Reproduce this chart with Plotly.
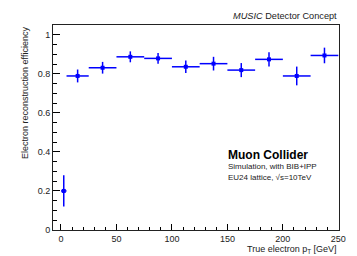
import plotly.graph_objects as go

# Data
pt_center = [2.5, 15, 37.5, 62.5, 87.5, 112.5, 137.5, 162.5, 187.5, 212.5, 237.5]
pt_halfwidth = [2.5, 10, 12.5, 12.5, 12.5, 12.5, 12.5, 12.5, 12.5, 12.5, 12.5]
efficiency = [0.20, 0.789, 0.831, 0.887, 0.879, 0.836, 0.852, 0.819, 0.874, 0.789, 0.894]
eff_error = [0.08, 0.033, 0.030, 0.028, 0.027, 0.032, 0.035, 0.036, 0.036, 0.048, 0.040]

x_ticks = [0, 50, 100, 150, 200, 250]
y_ticks = [0, 0.2, 0.4, 0.6, 0.8, 1]
y_ticklabels = ["0", "0.2", "0.4", "0.6", "0.8", "1"]

FONT = "Liberation Sans, Arial, sans-serif"
BLUE = "#0000ff"

fig = go.Figure()
fig.add_trace(go.Scatter(
    x=pt_center, y=efficiency, mode="markers",
    marker=dict(symbol="square", size=4, color=BLUE),
    error_x=dict(type="data", array=pt_halfwidth, color=BLUE, thickness=1.5, width=0),
    error_y=dict(type="data", array=eff_error, color=BLUE, thickness=1.5, width=0),
    showlegend=False,
))

fig.update_layout(
    width=357, height=256,
    margin=dict(l=53, r=18, t=25, b=26),
    paper_bgcolor="white", plot_bgcolor="white",
    font=dict(family=FONT, size=9, color="black"),
    xaxis=dict(
        range=[-7.2, 250.6], tickvals=x_ticks, ticks="inside", ticklen=6,
        tickcolor="black", tickwidth=1, showgrid=False, zeroline=False,
        showline=True, linecolor="#222", linewidth=1, mirror=True,
        minor=dict(dtick=10, ticks="inside", ticklen=3.5, tickcolor="black", showgrid=False),
        tickfont=dict(size=9, family=FONT, color="#222"),
    ),
    yaxis=dict(
        range=[0, 1.05], tickvals=y_ticks, ticktext=y_ticklabels, ticks="inside", ticklen=7,
        tickcolor="black", tickwidth=1, showgrid=False, zeroline=False,
        showline=True, linecolor="#222", linewidth=1, mirror=True,
        minor=dict(dtick=0.05, ticks="inside", ticklen=3.5, tickcolor="black", showgrid=False),
        tickfont=dict(size=9, family=FONT, color="#222"),
    ),
    annotations=[
        dict(text="<i>MUSIC</i> Detector Concept", xref="paper", yref="paper",
             x=1.0, y=1.044, xanchor="right", yanchor="middle", showarrow=False,
             font=dict(size=9.2, family=FONT, color="#222")),
        dict(text="<b>Muon Collider</b>", xref="paper", yref="paper",
             x=0.605, y=0.366, xanchor="left", yanchor="middle", showarrow=False,
             font=dict(size=12, family=FONT, color="black")),
        dict(text="Simulation, with BIB+IPP", xref="paper", yref="paper",
             x=0.605, y=0.309, xanchor="left", yanchor="middle", showarrow=False,
             font=dict(size=8, family=FONT, color="#222")),
        dict(text="EU24 lattice, √s=10TeV", xref="paper", yref="paper",
             x=0.605, y=0.257, xanchor="left", yanchor="middle", showarrow=False,
             font=dict(size=8, family=FONT, color="#222")),
        dict(text="True electron p<sub>T</sub> [GeV]", xref="paper", yref="paper",
             x=1.0, y=-0.095, xanchor="right", yanchor="middle", showarrow=False,
             font=dict(size=9, family=FONT, color="#222")),
        dict(text="Electron reconstruction efficiency", xref="paper", yref="paper",
             x=-0.098, y=1.0, xanchor="center", yanchor="top", textangle=-90, showarrow=False,
             font=dict(size=9, family=FONT, color="#222")),
    ],
)

fig.write_html("out.html", config={"displayModeBar": False},
               post_script="document.body.style.margin='0px';document.body.style.overflow='hidden';")
